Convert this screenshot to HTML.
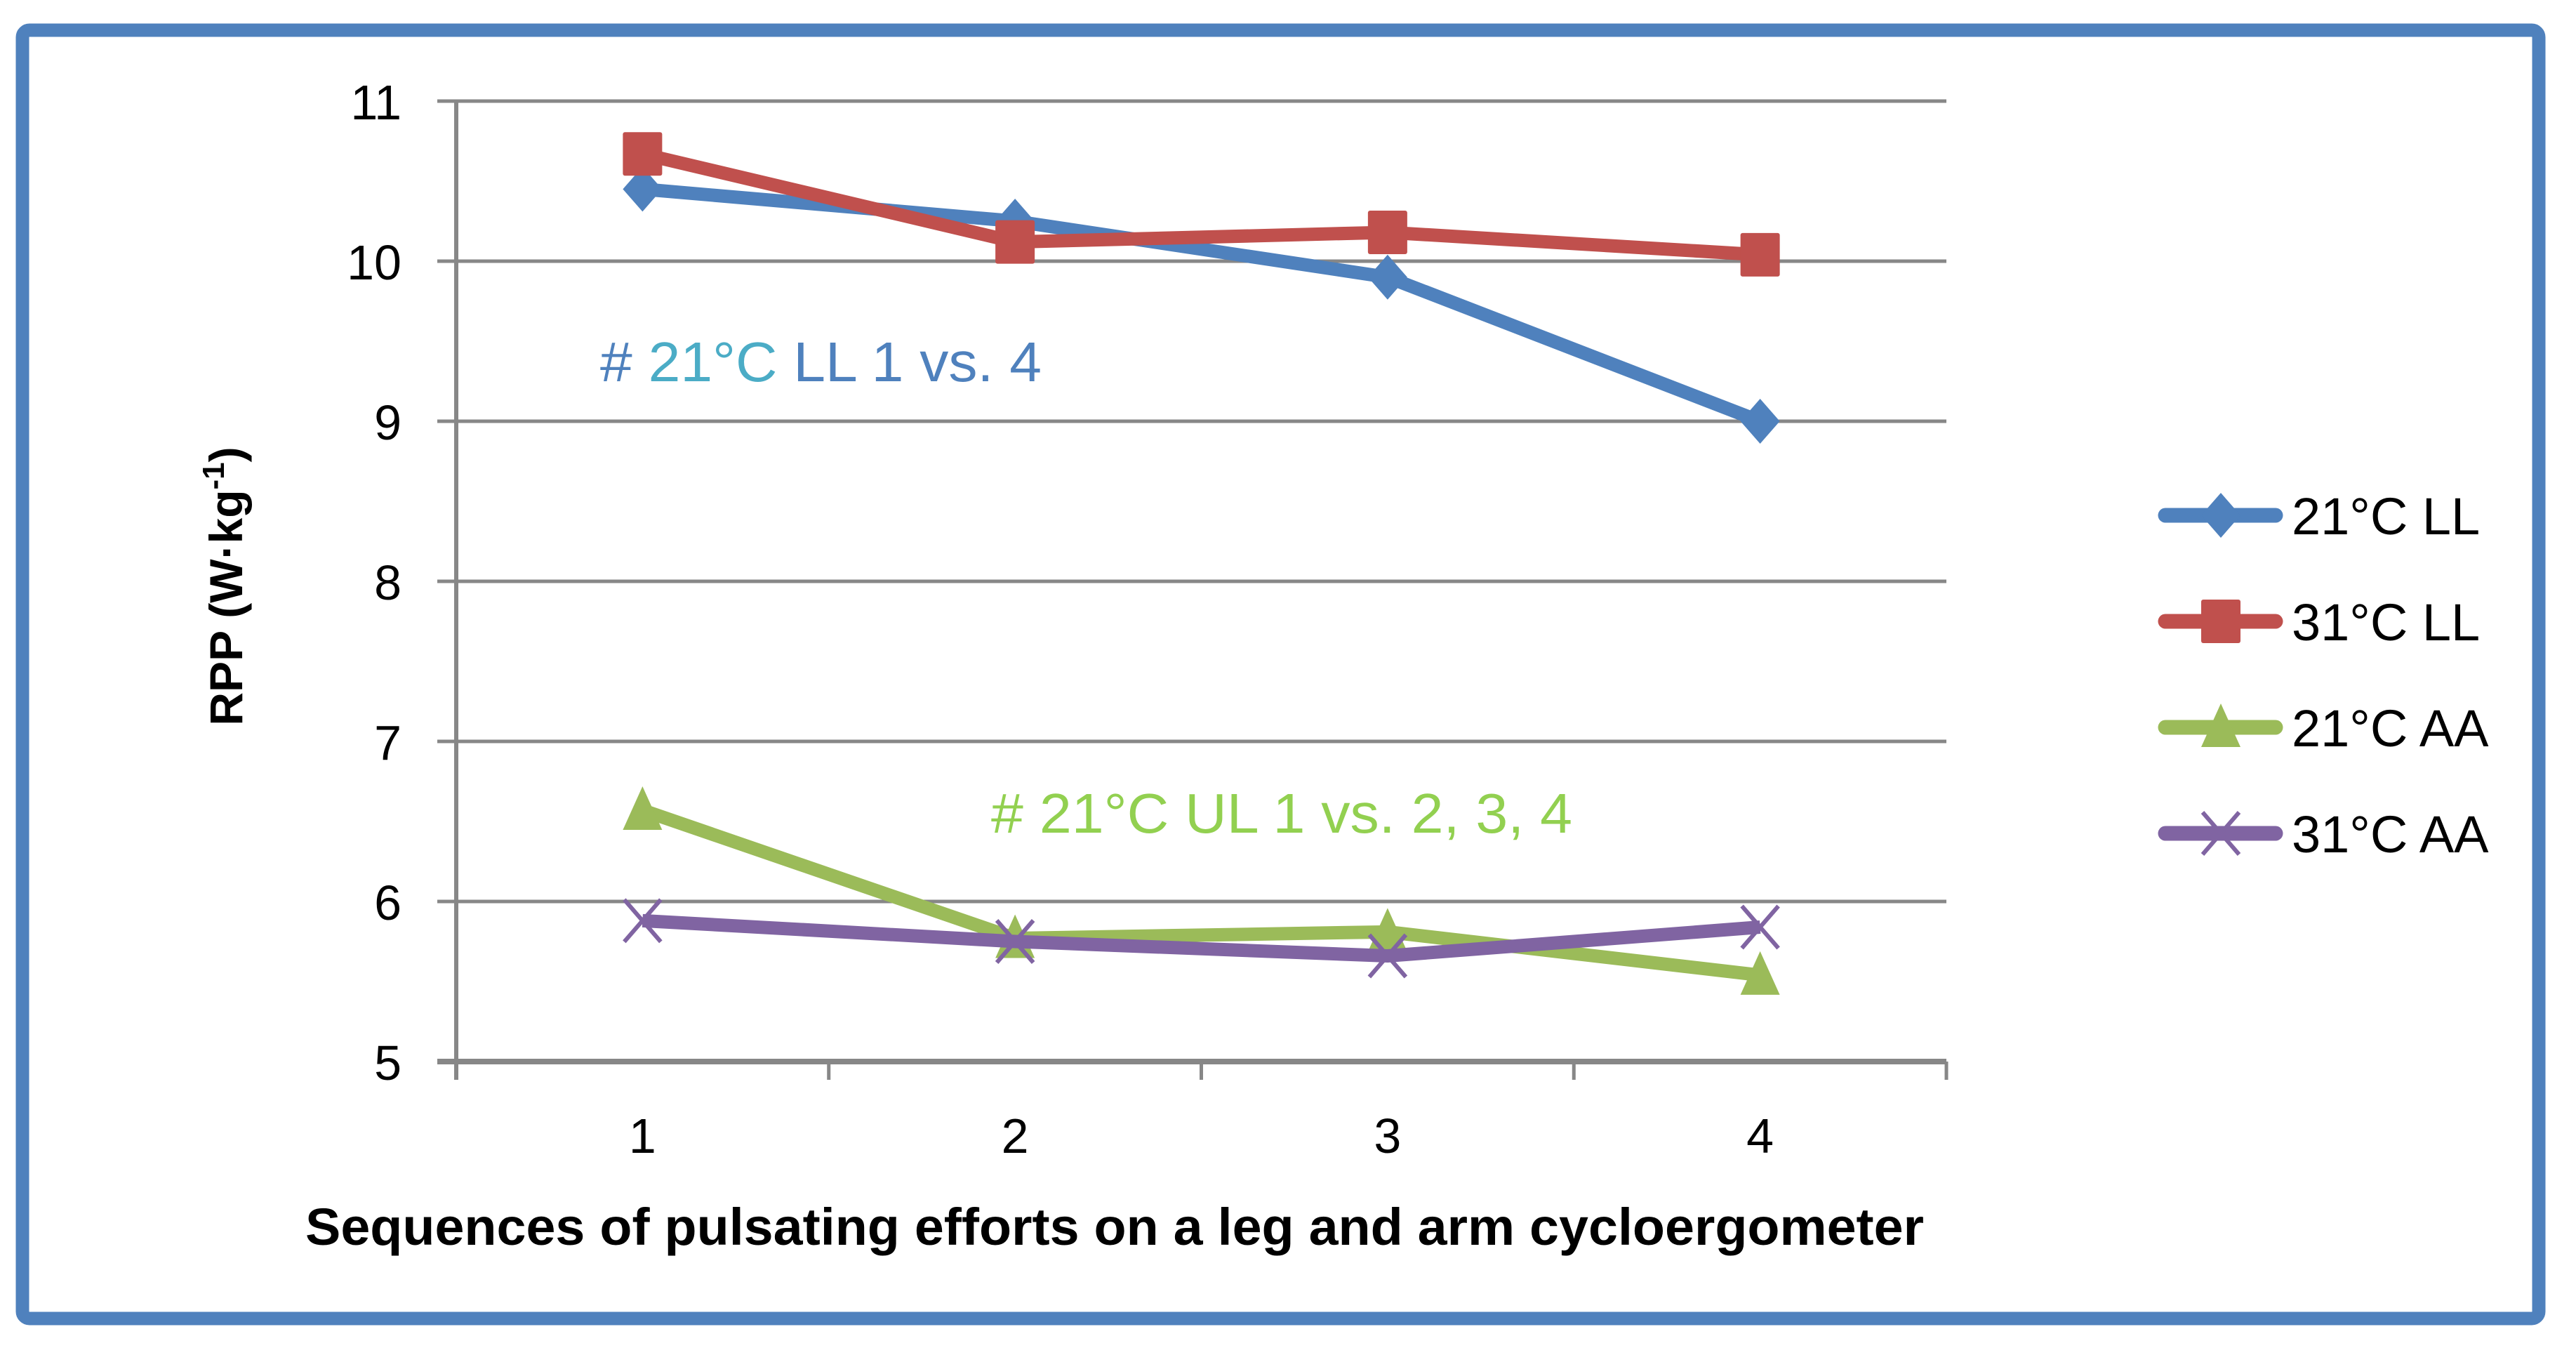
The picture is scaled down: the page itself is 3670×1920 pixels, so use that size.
<!DOCTYPE html>
<html><head><meta charset="utf-8"><style>
html,body{margin:0;padding:0;background:#fff;}
svg{display:block;font-family:"Liberation Sans",sans-serif;}
</style></head><body>
<svg id="chart" width="3670" height="1920" viewBox="0 0 3670 1920" xmlns="http://www.w3.org/2000/svg">
<rect x="32" y="43" width="3585" height="1835" rx="10" fill="#fff" stroke="#4F81BD" stroke-width="19"/>
<g id="grid"></g>
<g id="yticks"></g>
<g id="xticks"></g>
<g id="series"></g>
<text x="855" y="543" font-size="80" fill="#4F81BD" textLength="629" lengthAdjust="spacingAndGlyphs"># <tspan fill="#4BACC6">21°C</tspan>  LL 1 vs. 4</text>
<text x="1412" y="1186" font-size="80" fill="#92D050" textLength="828" lengthAdjust="spacingAndGlyphs">#  21°C UL 1 vs. 2, 3, 4</text>
<text transform="translate(345,835) rotate(-90)" text-anchor="middle" font-size="66" font-weight="bold" fill="#000">RPP (W·kg<tspan dy="-26" font-size="44">-1</tspan><tspan dy="26">)</tspan></text>
<text x="435" y="1773" font-size="74" font-weight="bold" fill="#000" textLength="2306" lengthAdjust="spacingAndGlyphs">Sequences of pulsating efforts on a leg and arm cycloergometer</text>
<g id="legend"></g>
</svg>
<script>
const categories = ["1","2","3","4"];
const yTicks = [5,6,7,8,9,10,11];
const seriesNames = ["21°C LL","31°C LL","21°C AA","31°C AA"];
const s21LL = [10.45,10.25,9.90,9.00];
const s31LL = [10.67,10.12,10.18,10.04];
const s21AA = [6.57,5.77,5.81,5.54];
const s31AA = [5.88,5.75,5.66,5.84];

const NS="http://www.w3.org/2000/svg";
const X0=650,X1=2773,Y5=1512,Y11=144;
function yS(v){return Y5-(v-5)*(Y5-Y11)/6;}
function xS(i){return X0+(i+0.5)*(X1-X0)/categories.length;}
function mk(tag,attrs,parent){const e=document.createElementNS(NS,tag);for(const k in attrs)e.setAttribute(k,attrs[k]);parent.appendChild(e);return e;}

const grid=document.getElementById('grid'), yt=document.getElementById('yticks'), xt=document.getElementById('xticks');
yTicks.forEach(v=>{
  const l=mk('line',{x1:623,x2:X1,y1:yS(v),y2:yS(v),stroke:'#878787','stroke-width':v===5?8:5},grid);
  
  
  const t=mk('text',{x:572,y:yS(v)+26,'text-anchor':'end','font-size':70,fill:'#000'},yt);
  t.textContent=v;
  
  
});
const ya=mk('line',{x1:X0,x2:X0,y1:Y11,y2:1538,stroke:'#878787','stroke-width':6},grid);


for(let i=0;i<=categories.length;i++){
  const x=X0+i*(X1-X0)/categories.length;
  const tk=mk('line',{x1:x,x2:x,y1:Y5,y2:1538,stroke:'#878787','stroke-width':5},grid);
  
  
}
categories.forEach((c,i)=>{
  const t=mk('text',{x:xS(i),y:1642,'text-anchor':'middle','font-size':70,fill:'#000'},xt);
  t.textContent=c;
  
  
});

const colors=['#4F81BD','#C0504D','#9BBB59','#8064A2'];
const shapes=['diamond','square','triangle','x'];
function marker(g,shape,x,y,col){
  let e;
  if(shape==='diamond') e=mk('polygon',{points:`${x},${y-32} ${x+28},${y} ${x},${y+32} ${x-28},${y}`,fill:col},g);
  else if(shape==='square') e=mk('rect',{x:x-28,y:y-31,width:56,height:62,rx:3,fill:col},g);
  else if(shape==='triangle') e=mk('polygon',{points:`${x},${y-34} ${x+28},${y+28} ${x-28},${y+28}`,fill:col},g);
  else e=mk('path',{d:`M${x-26},${y-30}L${x+26},${y+30}M${x+26},${y-30}L${x-26},${y+30}`,stroke:col,'stroke-width':6,fill:'none'},g);
  return e;
}
const sg=document.getElementById('series');
[s21LL,s31LL,s21AA,s31AA].forEach((vals,si)=>{
  const g=mk('g',{},sg);
  
  
  const pts=vals.map((v,i)=>xS(i)+','+yS(v)).join(' ');
  const pl=mk('polyline',{points:pts,fill:'none',stroke:colors[si],'stroke-width':19,'stroke-linejoin':'round'},g);
  
  
  vals.forEach((v,i)=>{
    const m=marker(g,shapes[si],xS(i),yS(v),colors[si]);
    
    
  });
});

const lg=document.getElementById('legend');
const legY=[734,885,1036,1187];
seriesNames.forEach((n,i)=>{
  const g=mk('g',{},lg);
  
  
  mk('line',{x1:3085,x2:3242,y1:legY[i],y2:legY[i],stroke:colors[i],'stroke-width':21,'stroke-linecap':'round'},g);
  marker(g,shapes[i],3164,legY[i],colors[i]);
  const t=mk('text',{x:3265,y:legY[i]+27,'font-size':74,fill:'#000'},g);
  t.textContent=n;
  
  
});
</script>
</body></html>
